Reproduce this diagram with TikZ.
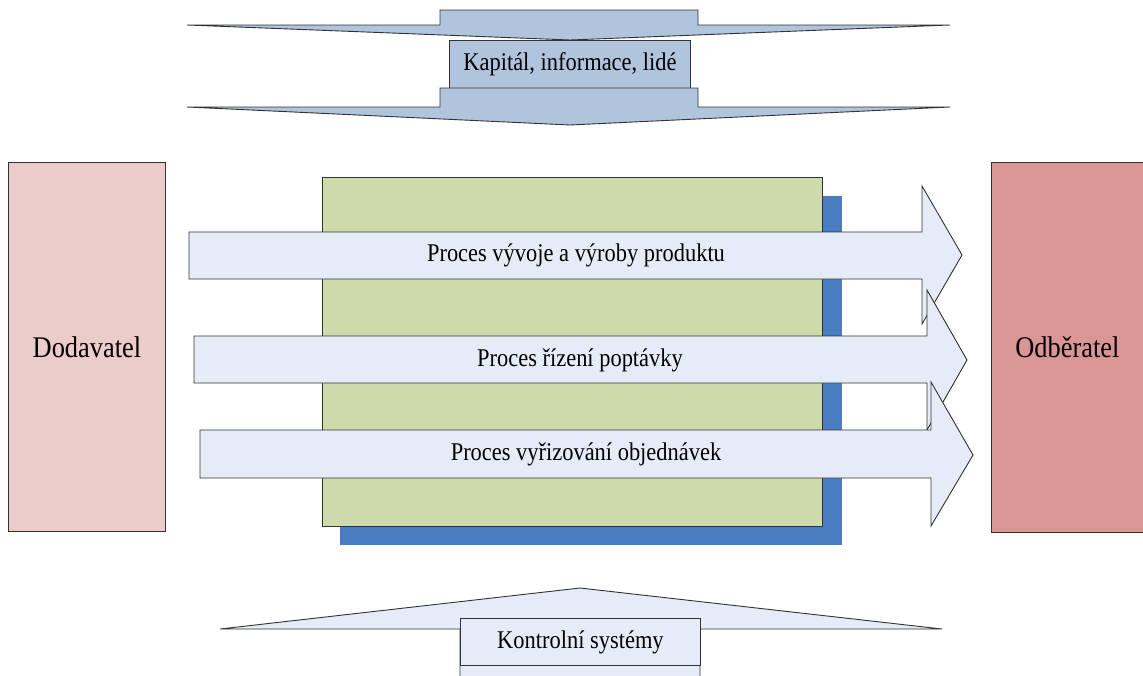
\documentclass[tikz,border=0pt]{standalone}
\usepackage{fontspec}
\setmainfont{Liberation Serif}
\usepackage{graphicx}
% slightly condensed lettering
\newcommand{\cond}[1]{\scalebox{0.88}[1]{#1}}
\definecolor{steelfill}{RGB}{176,196,222}
\definecolor{arrowfill}{RGB}{230,236,247}
\definecolor{supplierfill}{RGB}{235,204,203}
\definecolor{customerfill}{RGB}{217,150,148}
\definecolor{corefill}{RGB}{205,219,172}
\definecolor{shadowfill}{RGB}{74,124,193}
\definecolor{edgegray}{RGB}{50,50,50}
\begin{document}
\begin{tikzpicture}[x=1pt,y=-1pt,line join=miter,
  outline/.style={draw=edgegray,line width=0.9pt},
  lbl/.style={font=\fontsize{25.5}{30}\selectfont,inner sep=0pt},
  biglbl/.style={font=\fontsize{30}{36}\selectfont,inner sep=0pt},
  boxnode/.style={outline,rectangle,inner sep=0pt,anchor=north west}]
\useasboundingbox (0,0) rectangle (1143,675);

% resources flowing in from above
\draw[outline,fill=steelfill] (187,25) -- (440,25) -- (440,10) -- (698,10)
  -- (698,25) -- (950,25) -- (570,40) -- cycle;
\node[boxnode,fill=steelfill,minimum width=241pt,minimum height=48pt]
  (res) at (449,40) {};
\node[lbl] (restext) at (res.center) {\cond{Kapitál, informace, lidé}};
\draw[outline,fill=steelfill] (187,107) -- (440,107) -- (440,88) -- (698,88)
  -- (698,107) -- (950,107) -- (570,125) -- cycle;

% supplier and customer
\node[boxnode,fill=supplierfill,minimum width=157pt,minimum height=369pt]
  (sup) at (8,162) {};
\node[biglbl] at (sup.center) {\cond{Dodavatel}};
\node[boxnode,fill=customerfill,minimum width=152pt,minimum height=370pt]
  (cust) at (991,162) {};
\node[biglbl] at (cust.center) {\cond{Odběratel}};

% core block with its shadow
\fill[shadowfill] (340,196) rectangle (842,545);
\node[boxnode,fill=corefill,minimum width=500pt,minimum height=349pt]
  (core) at (322,177) {};

% the three processes
\draw[outline,fill=arrowfill] (189,232) -- (922,232) -- (922,186) -- (962,255)
  -- (922,324) -- (922,279) -- (189,279) -- cycle;
\node[lbl] (p1) at (576,255) {\cond{Proces vývoje a výroby produktu}};
\draw[outline,fill=arrowfill] (194,336) -- (927,336) -- (927,290) -- (967,360)
  -- (927,430) -- (927,383) -- (194,383) -- cycle;
\node[lbl] (p2) at (580,360) {\cond{Proces řízení poptávky}};
\draw[outline,fill=arrowfill] (200,430) -- (931,430) -- (931,382) -- (973,455)
  -- (931,526) -- (931,478) -- (200,478) -- cycle;
\node[lbl] (p3) at (586,454) {\cond{Proces vyřizování objednávek}};

% control systems pushing up from below
\fill[arrowfill] (460,676) -- (460,629) -- (220,629) -- (580,588) -- (942,629)
  -- (700,629) -- (700,676) -- cycle;
\draw[outline] (460,676) -- (460,629) -- (220,629) -- (580,588) -- (942,629)
  -- (700,629) -- (700,676);
\node[boxnode,fill=arrowfill,minimum width=240pt,minimum height=47pt]
  (ctrl) at (460,618) {};
\node[lbl] (ctrltext) at (ctrl.center) {\cond{Kontrolní systémy}};
\end{tikzpicture}
\end{document}
